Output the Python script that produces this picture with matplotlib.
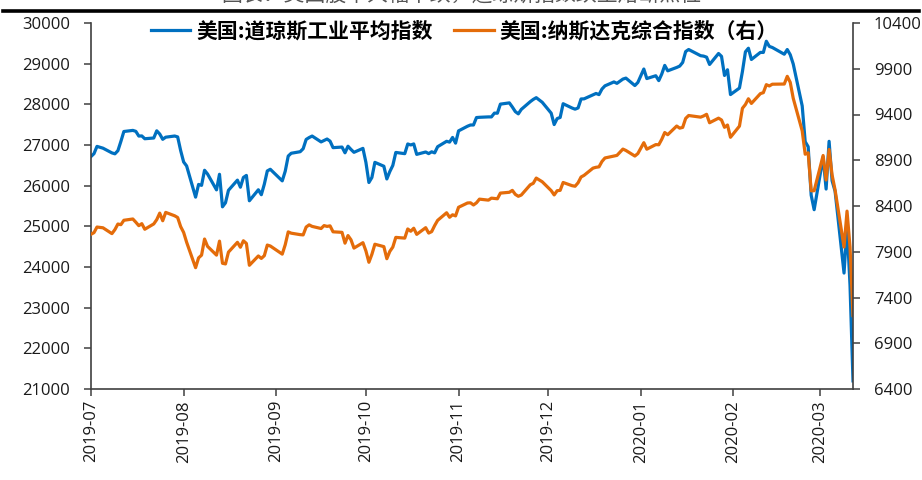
import matplotlib
matplotlib.use("Agg")
import matplotlib.pyplot as plt
import matplotlib.dates as mdates
from matplotlib.lines import Line2D
import pandas as pd

plt.rcParams["font.family"] = ["Open Sans", "Noto Sans CJK SC", "DejaVu Sans"]

# trading days 2019-07-01 .. 2020-03-12 (NYSE holidays removed)
holidays = ["2019-07-04", "2019-09-02", "2019-11-28", "2019-12-25",
            "2020-01-01", "2020-01-20", "2020-02-17"]
dates = pd.bdate_range("2019-07-01", "2020-03-12", freq="C", holidays=holidays)

dow = [
    # 2019-07
    26717, 26787, 26966, 26922, 26806, 26783, 26860, 27088, 27332, 27359, 27336,
    27220, 27223, 27154, 27172, 27349, 27270, 27140, 27192, 27221, 27199, 26864,
    # 2019-08
    26583, 26485, 25718, 26030, 26008, 26379, 26287, 25897, 26280, 25480, 25579,
    25886, 26136, 25962, 26202, 26252, 25629, 25899, 25778, 26036, 26362, 26403,
    # 2019-09
    26118, 26356, 26728, 26797, 26835, 26909, 27137, 27183, 27220, 27076, 27111,
    27147, 27095, 26935, 26949, 26808, 26970, 26891, 26820, 26917,
    # 2019-10
    26573, 26078, 26201, 26573, 26478, 26165, 26347, 26497, 26817, 26787, 27025,
    27001, 27026, 26770, 26828, 26788, 26833, 26806, 26958, 27091, 27071, 27186, 27046,
    # 2019-11
    27347, 27462, 27492, 27492, 27675, 27681, 27691, 27691, 27784, 27782, 28005,
    28036, 27934, 27821, 27766, 27876, 28066, 28121, 28164, 28051,
    # 2019-12
    27783, 27503, 27650, 27677, 28015, 27909, 27881, 27911, 28132, 28135, 28235,
    28267, 28239, 28377, 28455, 28551, 28516, 28621, 28645, 28462, 28538,
    # 2020-01
    28868, 28634, 28703, 28583, 28745, 28957, 28824, 28907, 28940, 29030, 29298,
    29348, 29196, 29186, 29160, 28980, 29250, 29180, 28710, 28850, 28240,
    # 2020-02
    28400, 28808, 29291, 29380, 29103, 29277, 29276, 29551, 29424, 29398, 29232,
    29348, 29220, 28992, 27961, 27081, 26957, 25767, 25409,
    # 2020-03
    26703, 25917, 27091, 26121, 25865, 23851, 25018, 23553, 21200,
]

nasdaq = [
    # 2019-07
    8091, 8109, 8170, 8162, 8098, 8142, 8203, 8196, 8244, 8258, 8223,
    8185, 8207, 8146, 8204, 8251, 8322, 8239, 8330, 8293, 8274, 8175,
    # 2019-08
    8111, 8004, 7726, 7833, 7863, 8039, 7959, 7863, 8016, 7774, 7767,
    7896, 8003, 7949, 8020, 7991, 7752, 7854, 7827, 7857, 7973, 7963,
    # 2019-09
    7874, 7977, 8117, 8103, 8087, 8084, 8170, 8194, 8177, 8154, 8186,
    8177, 8183, 8118, 8112, 7994, 8077, 8031, 7940, 7999,
    # 2019-10
    7909, 7785, 7872, 7982, 7956, 7824, 7904, 7951, 8057, 8049, 8149,
    8124, 8157, 8090, 8163, 8104, 8120, 8186, 8243, 8326, 8277, 8304, 8292,
    # 2019-11
    8386, 8433, 8435, 8411, 8435, 8475, 8464, 8486, 8482, 8479, 8541,
    8550, 8571, 8527, 8506, 8520, 8632, 8648, 8705, 8665,
    # 2019-12
    8568, 8521, 8567, 8571, 8657, 8622, 8616, 8654, 8717, 8735, 8814,
    8823, 8828, 8887, 8925, 8946, 8953, 9022, 9007, 8946, 8973,
    # 2020-01
    9092, 9021, 9071, 9069, 9129, 9203, 9179, 9274, 9251, 9259, 9357,
    9389, 9371, 9384, 9402, 9310, 9360, 9340, 9260, 9285, 9151,
    # 2020-02
    9273, 9468, 9509, 9572, 9521, 9628, 9639, 9726, 9712, 9731, 9733,
    9817, 9751, 9577, 9221, 8966, 8981, 8566, 8567,
    # 2020-03
    8952, 8684, 9018, 8739, 8576, 7951, 8344, 7952, 7202,
]

left_ticks = list(range(21000, 30001, 1000))
right_ticks = list(range(6400, 10401, 500))

label_dow = "美国:道琼斯工业平均指数"
label_nas = "美国:纳斯达克综合指数（右）"
caption = "图表：美国股市大幅下跌，道琼斯指数跌至熔断点位"
blue = "#0070C0"
orange = "#E46C0A"
axis_col = "#404040"

fig = plt.figure(figsize=(9.22, 4.80), dpi=100)
ax = fig.add_axes([91 / 922, 1 - 389 / 480, (853 - 91) / 922, (389 - 23) / 480])
ax2 = ax.twinx()

l1, = ax.plot(dates, dow, color=blue, lw=2.3, solid_joinstyle="round")
l2, = ax2.plot(dates, nasdaq, color=orange, lw=2.3, solid_joinstyle="round")

ax.set_xlim(dates[0], dates[-1])
ax.set_ylim(21000, 30000)
ax2.set_ylim(6400, 10400)
ax.set_yticks(left_ticks)
ax2.set_yticks(right_ticks)

ax.xaxis.set_major_locator(mdates.MonthLocator())
ax.xaxis.set_major_formatter(mdates.DateFormatter("%Y-%m"))
for lab in ax.get_xticklabels():
    lab.set_rotation(90)

for a in (ax, ax2):
    a.spines["top"].set_visible(False)
    for s in ("left", "right", "bottom"):
        a.spines[s].set_color(axis_col)
        a.spines[s].set_linewidth(1.2)
    a.tick_params(axis="y", direction="out", length=5, width=1.1,
                  color=axis_col, labelsize=12, labelcolor="#1a1a1a", pad=10)
ax.tick_params(axis="x", direction="out", length=5, width=1.1,
               color=axis_col, labelsize=12, labelcolor="#1a1a1a", pad=3)
ax.spines["right"].set_visible(False)
ax2.spines["left"].set_visible(False)
ax2.spines["bottom"].set_visible(False)

ax2.legend([l1, l2], [label_dow, label_nas], loc="upper center",
           bbox_to_anchor=(0.49, 1.058), ncol=2, frameon=False,
           handlelength=1.9, handletextpad=0.3, columnspacing=1.0,
           prop={"family": ["Noto Sans CJK SC", "DejaVu Sans"],
                 "weight": "bold", "size": 15})

# header rule and clipped caption
fig.add_artist(Line2D([3 / 922, 919 / 922], [1 - 11 / 480, 1 - 11 / 480],
                      color="black", lw=2.6, transform=fig.transFigure))
fig.text(0.5, 1.0 + 4 / 480, caption,
         ha="center", va="center", fontsize=15, color="#555555",
         family=["Noto Sans CJK SC", "DejaVu Sans"])

fig.savefig("out.png", dpi=100)
